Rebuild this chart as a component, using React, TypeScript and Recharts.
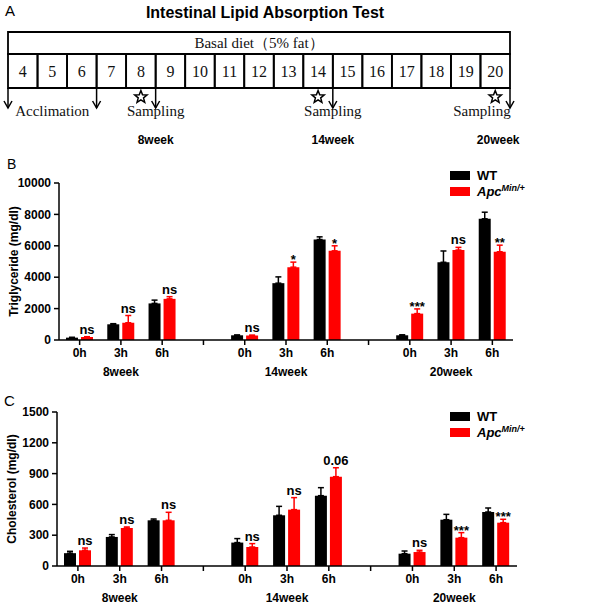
import React from 'react'
import {
  Bar,
  ComposedChart,
  BarChart,
  ErrorBar,
  LabelList,
  ReferenceArea,
  ReferenceDot,
  ReferenceLine,
  XAxis,
  YAxis,
} from 'recharts'

const SANS = '"Liberation Sans", Arial, sans-serif'
const SERIF = '"Liberation Serif", "Times New Roman", serif'
const RED = '#ff0000'

// timeline (panel A)
const weeks = [4, 5, 6, 7, 8, 9, 10, 11, 12, 13, 14, 15, 16, 17, 18, 19, 20]
const arrowWeeks = [3.5, 6.5, 8.5, 14.5, 20.5]
const starWeeks = [8, 14, 20]
const phaseNotes = [
  { text: 'Acclimation', x: 5 },
  { text: 'Sampling', x: 8.5 },
  { text: 'Sampling', x: 14.5 },
  { text: 'Sampling', x: 19.55 },
]
const sampleWeeks = [
  { text: '8week', x: 8.5 },
  { text: '14week', x: 14.5 },
  { text: '20week', x: 20.1 },
]

// bar panels
const timeLabels = ['0h', '3h', '6h']
const weekLabels = ['8week', '14week', '20week']

const tgWT = [150, 1000, 2330, 300, 3620, 6400, 300, 4950, 7720]
const tgWTErr = [20, 40, 210, 20, 400, 170, 30, 720, 420]
const tgApc = [190, 1100, 2620, 280, 4640, 5680, 1680, 5730, 5620]
const tgApcErr = [20, 460, 140, 30, 320, 320, 300, 170, 420]
const tgSig = ['ns', 'ns', 'ns', 'ns', '*', '*', '***', 'ns', '**']
const tgTicks = [0, 2000, 4000, 6000, 8000, 10000]

const chWT = [125, 283, 445, 228, 494, 685, 120, 451, 526]
const chWTErr = [18, 23, 13, 39, 87, 78, 26, 52, 39]
const chApc = [153, 370, 445, 185, 549, 870, 136, 276, 422]
const chApcErr = [22, 10, 78, 33, 117, 87, 17, 49, 33]
const chSig = ['ns', 'ns', 'ns', 'ns', 'ns', '0.06', 'ns', '***', '***']
const chTicks = [0, 300, 600, 900, 1200, 1500]

function buildRows(wt: number[], wtErr: number[], apc: number[], apcErr: number[], sig: string[]) {
  const rows: any[] = []
  weekLabels.forEach((wk, w) => {
    timeLabels.forEach((t, i) => {
      const k = w * 3 + i
      rows.push({
        cat: t,
        grp: i === 1 ? wk : '',
        wt: wt[k],
        wtErr: [0, wtErr[k]],
        apc: apc[k],
        apcErr: [0, apcErr[k]],
        // annotation text plus error/value ratio, so the label can sit above the error cap
        note: `${sig[k]}|${apcErr[k] / apc[k]}`,
      })
    })
    if (w < weekLabels.length - 1) rows.push({ cat: '', grp: '' })
  })
  return rows
}

const tgRows = buildRows(tgWT, tgWTErr, tgApc, tgApcErr, tgSig)
const chRows = buildRows(chWT, chWTErr, chApc, chApcErr, chSig)

const tickStyle = { fontSize: 12, fontWeight: 'bold', fill: '#000', fontFamily: SANS }
const axisStroke = { stroke: '#000', strokeWidth: 1.5 }

function SigLabel(props: any) {
  const { x, y, width, height, value } = props
  if (!value) return null
  const [text, ratio] = String(value).split('|')
  const errTop = Number(y) - Number(ratio) * Number(height)
  const star = text.startsWith('*')
  return (
    <text
      x={Number(x) + Number(width) / 2}
      y={star ? errTop + 2 : errTop - 3}
      textAnchor="middle"
      fontSize={13}
      fontWeight="bold"
      fontFamily={SANS}
      fill="#000"
    >
      {text}
    </text>
  )
}

function Arrow(props: any) {
  const { x1, y1, x2, y2 } = props
  return (
    <g stroke="#000" strokeWidth={1.5} fill="none">
      <line x1={x1} y1={y1} x2={x2} y2={y2} />
      <polyline points={`${x2 - 4},${y2 - 7} ${x2},${y2} ${x2 + 4},${y2 - 7}`} />
    </g>
  )
}

function Star(props: any) {
  const { cx, cy } = props
  const pts: string[] = []
  for (let i = 0; i < 10; i++) {
    const r = i % 2 === 0 ? 6.5 : 2.8
    const a = -Math.PI / 2 + (i * Math.PI) / 5
    pts.push(`${cx + r * Math.cos(a)},${cy + r * Math.sin(a)}`)
  }
  return <polygon points={pts.join(' ')} fill="#fff" stroke="#000" strokeWidth={1.5} />
}

function Timeline() {
  return (
    <ComposedChart
      width={600}
      height={150}
      data={weeks.map((w) => ({ w }))}
      margin={{ top: 32, right: 90, bottom: 0, left: 8 }}
    >
      <XAxis type="number" dataKey="w" domain={[3.5, 20.5]} hide allowDataOverflow />
      <YAxis type="number" domain={[0, 118]} reversed hide allowDataOverflow />
      <ReferenceArea
        x1={3.5}
        x2={20.5}
        y1={0}
        y2={22}
        fill="none"
        stroke="#000"
        strokeWidth={1.8}
        fillOpacity={0}
        label={{ value: 'Basal diet（5% fat）', position: 'center', fontFamily: SERIF, fontSize: 15, fill: '#111' }}
      />
      {weeks.map((w) => (
        <ReferenceArea
          key={w}
          x1={w - 0.5}
          x2={w + 0.5}
          y1={22}
          y2={56}
          fill="none"
          fillOpacity={0}
          stroke="#000"
          strokeWidth={1.8}
          label={{ value: String(w), position: 'center', fontFamily: SERIF, fontSize: 16, fill: '#111' }}
        />
      ))}
      {arrowWeeks.map((x) => (
        <ReferenceLine
          key={x}
          segment={[
            { x, y: 56 },
            { x, y: 76 },
          ]}
          shape={Arrow}
        />
      ))}
      {starWeeks.map((x) => (
        <ReferenceDot key={x} x={x} y={65} shape={Star} />
      ))}
      {phaseNotes.map((n, i) => (
        <ReferenceDot
          key={'p' + i}
          x={n.x}
          y={79}
          shape={(p: any) => (
            <text x={p.cx} y={p.cy} dy="0.35em" textAnchor="middle" fontFamily={SERIF} fontSize={15} fill="#111">
              {n.text}
            </text>
          )}
        />
      ))}
      {sampleWeeks.map((n, i) => (
        <ReferenceDot
          key={'s' + i}
          x={n.x}
          y={108}
          shape={(p: any) => (
            <text x={p.cx} y={p.cy} dy="0.35em" textAnchor="middle" fontFamily={SANS} fontWeight="bold" fontSize={12} fill="#000">
              {n.text}
            </text>
          )}
        />
      ))}
    </ComposedChart>
  )
}

function GroupChart(props: {
  rows: any[]
  ticks: number[]
  max: number
  title: string
  height: number
  margin: { top: number; right: number; bottom: number; left: number }
}) {
  const { rows, ticks, max, title, height, margin } = props
  return (
    <BarChart width={600} height={height} data={rows} margin={margin} barSize={12} barGap={3}>
      <XAxis
        dataKey="cat"
        interval={0}
        height={22}
        tickSize={5}
        tickMargin={3}
        tick={tickStyle}
        axisLine={axisStroke}
        tickLine={axisStroke}
      />
      <XAxis
        xAxisId="grp"
        dataKey="grp"
        interval={0}
        height={height > 230 ? 20 : 18}
        tickSize={0}
        tickMargin={5}
        tick={tickStyle}
        axisLine={false}
        tickLine={false}
      />
      <YAxis
        type="number"
        domain={[0, max]}
        ticks={ticks}
        interval={0}
        width={55}
        tickSize={5}
        tickMargin={3}
        tick={tickStyle}
        axisLine={axisStroke}
        tickLine={axisStroke}
        label={{
          content: ({ viewBox }: any) => {
            const cx = viewBox.x + 10
            const cy = viewBox.y + viewBox.height / 2
            return (
              <text
                x={cx}
                y={cy}
                transform={`rotate(-90 ${cx} ${cy})`}
                textAnchor="middle"
                dominantBaseline="central"
                fontSize={12}
                fontWeight="bold"
                fontFamily={SANS}
                fill="#000"
              >
                {title}
              </text>
            )
          },
        }}
      />
      <Bar dataKey="wt" fill="#000" isAnimationActive={false}>
        <ErrorBar dataKey="wtErr" direction="y" width={3} stroke="#000" strokeWidth={1.5} />
      </Bar>
      <Bar dataKey="apc" fill={RED} isAnimationActive={false}>
        <ErrorBar dataKey="apcErr" direction="y" width={3} stroke={RED} strokeWidth={1.5} />
        <LabelList dataKey="note" content={SigLabel} />
      </Bar>
    </BarChart>
  )
}

function LegendBox({ top }: { top: number }) {
  const row = { display: 'flex', alignItems: 'center', height: 16 }
  const sw = { width: 20, height: 9, marginRight: 7 }
  return (
    <div style={{ position: 'absolute', left: 450, top, fontFamily: SANS, fontWeight: 'bold', fontSize: 13 }}>
      <div style={row}>
        <div style={{ ...sw, background: '#000' }} />
        <span>WT</span>
      </div>
      <div style={row}>
        <div style={{ ...sw, background: RED }} />
        <span style={{ fontStyle: 'italic' }}>
          Apc<sup style={{ fontSize: 9 }}>Min/+</sup>
        </span>
      </div>
    </div>
  )
}

export default function App() {
  const abs = (top: number): React.CSSProperties => ({ position: 'absolute', left: 0, top })
  return (
    <div style={{ position: 'absolute', left: 0, top: 0, width: 600, height: 611, background: '#fff', overflow: 'hidden' }}>
      <div style={{ ...abs(2), left: 5, fontFamily: SANS, fontSize: 15 }}>A</div>
      <div
        style={{ ...abs(4), left: 65, width: 400, textAlign: 'center', fontFamily: SANS, fontWeight: 'bold', fontSize: 16 }}
      >
        Intestinal Lipid Absorption Test
      </div>
      <div style={abs(0)}>
        <Timeline />
      </div>
      <div style={{ ...abs(156), left: 7, fontFamily: SANS, fontSize: 14 }}>B</div>
      <div style={abs(150)}>
        <GroupChart
          rows={tgRows}
          ticks={tgTicks}
          max={10000}
          title="Triglyceride (mg/dl)"
          height={230}
          margin={{ top: 33, right: 87, bottom: 0, left: 4 }}
        />
      </div>
      <LegendBox top={167} />
      <div style={{ ...abs(392), left: 4, fontFamily: SANS, fontSize: 15 }}>C</div>
      <div style={abs(380)}>
        <GroupChart
          rows={chRows}
          ticks={chTicks}
          max={1500}
          title="Cholesterol (mg/dl)"
          height={231}
          margin={{ top: 32, right: 83, bottom: 3, left: 2 }}
        />
      </div>
      <LegendBox top={408} />
    </div>
  )
}
